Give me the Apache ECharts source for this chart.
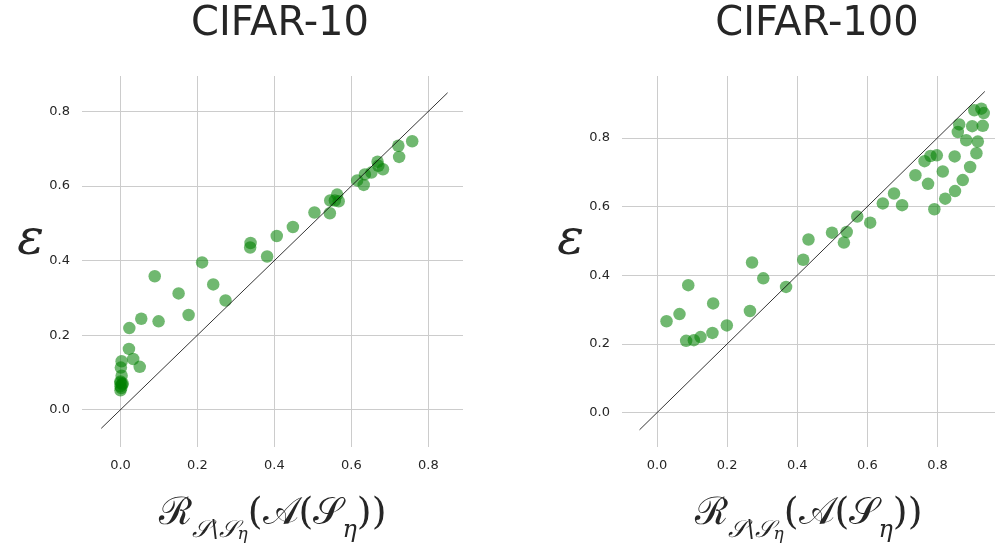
<!DOCTYPE html>
<html>
<head>
<meta charset="utf-8">
<script src="https://cdn.jsdelivr.net/npm/echarts@6/dist/echarts.min.js"></script>
<style>
  html, body { margin: 0; padding: 0; background: #fff; }
  #main { width: 995px; height: 550px; }
</style>
</head>
<body>
<div id="main"></div>
<script>
// 数据
var titles = ['CIFAR-10', 'CIFAR-100'];

var cifar10 = [
  [0.338, 0.447], [0.337, 0.435], [0.381, 0.411], [0.406, 0.466], [0.448, 0.490],
  [0.504, 0.529], [0.544, 0.527], [0.545, 0.561], [0.557, 0.561], [0.563, 0.577],
  [0.567, 0.559], [0.615, 0.615], [0.632, 0.603], [0.635, 0.631], [0.652, 0.636],
  [0.668, 0.665], [0.670, 0.654], [0.682, 0.645], [0.722, 0.708], [0.724, 0.678],
  [0.758, 0.720],
  [0.089, 0.358], [0.212, 0.395], [0.241, 0.336], [0.151, 0.312], [0.273, 0.293],
  [0.054, 0.244], [0.099, 0.237], [0.177, 0.254], [0.023, 0.219], [0.022, 0.163],
  [0.033, 0.136], [0.050, 0.115], [0.003, 0.130], [0.001, 0.113], [0.003, 0.091],
  [0.000, 0.076], [0.006, 0.070], [0.000, 0.063], [0.000, 0.052], [0.002, 0.058],
  [0.004, 0.068], [0.000, 0.072]
];

var cifar100 = [
  [0.027, 0.266], [0.064, 0.287], [0.089, 0.371], [0.083, 0.209], [0.105, 0.211],
  [0.124, 0.220], [0.160, 0.318], [0.158, 0.232], [0.199, 0.254], [0.265, 0.296],
  [0.271, 0.437], [0.303, 0.391], [0.368, 0.366], [0.417, 0.445], [0.432, 0.504],
  [0.499, 0.524], [0.541, 0.526], [0.533, 0.495], [0.571, 0.571], [0.608, 0.553],
  [0.644, 0.609], [0.676, 0.638], [0.699, 0.604], [0.737, 0.691], [0.773, 0.666],
  [0.791, 0.592], [0.763, 0.732], [0.780, 0.747], [0.798, 0.749], [0.815, 0.702],
  [0.822, 0.623], [0.849, 0.746], [0.850, 0.645], [0.872, 0.677], [0.893, 0.715],
  [0.911, 0.755], [0.915, 0.789], [0.882, 0.793], [0.858, 0.817], [0.862, 0.839],
  [0.899, 0.834], [0.929, 0.835], [0.905, 0.880], [0.925, 0.885], [0.932, 0.872]
];

// y = x 参考线
var diag10 = [[-0.05, -0.05], [0.85, 0.85]];
var diag100 = [[-0.05, -0.05], [0.935, 0.935]];

var xRange = [[-0.1, 0.89], [-0.1, 0.964]];
var yRange = [[-0.1, 0.895], [-0.1, 0.98]];

var myChart = echarts.init(document.getElementById('main'));

var xName = '{b|ℛ}{s|𝒮\\𝒮}{ss|η}{b|(𝒜(𝒮}{s|η}{b|))}';
var xNameRich = {
  b: { fontSize: 38, color: '#262626', lineHeight: 48, verticalAlign: 'top', fontFamily: 'DejaVu Serif' },
  s: { fontSize: 24, color: '#262626', lineHeight: 30, verticalAlign: 'bottom', fontFamily: 'DejaVu Serif', fontStyle: 'italic' },
  ss: { fontSize: 17, color: '#262626', lineHeight: 20, verticalAlign: 'bottom', fontFamily: 'DejaVu Serif', fontStyle: 'italic' }
};

function axisCommon() {
  return {
    type: 'value',
    splitNumber: 5,
    axisLine: { show: false },
    axisTick: { show: false },
    axisLabel: {
      color: '#262626',
      fontSize: 13,
      fontFamily: 'DejaVu Sans',
      margin: 12,
      showMinLabel: false,
      showMaxLabel: false,
      formatter: function (v) { return v.toFixed(1); }
    },
    splitLine: {
      show: true,
      showMinLine: false,
      showMaxLine: false,
      lineStyle: { color: '#cccccc', width: 1 }
    }
  };
}

var grids = [
  { left: 82, top: 76, width: 381, height: 371, outerBoundsMode: 'none', containLabel: false },
  { left: 622, top: 76, width: 373, height: 371, outerBoundsMode: 'none', containLabel: false }
];

var xAxes = [], yAxes = [];
for (var i = 0; i < 2; i++) {
  var xa = axisCommon();
  xa.gridIndex = i;
  xa.min = xRange[i][0];
  xa.max = xRange[i][1];
  xa.name = xName;
  xa.nameLocation = 'middle';
  xa.nameGap = 48;
  xa.nameTextStyle = { rich: xNameRich };
  xAxes.push(xa);

  var ya = axisCommon();
  ya.gridIndex = i;
  ya.min = yRange[i][0];
  ya.max = yRange[i][1];
  ya.name = 'ε\n';
  ya.nameLocation = 'middle';
  ya.nameRotate = 0;
  ya.nameGap = 38;
  ya.nameTextStyle = {
    fontSize: 50, lineHeight: 40, color: '#262626',
    fontFamily: 'DejaVu Serif', fontStyle: 'italic', align: 'right'
  };
  yAxes.push(ya);
}

function scatter(idx, data) {
  return {
    type: 'scatter',
    xAxisIndex: idx,
    yAxisIndex: idx,
    symbolSize: 12.5,
    itemStyle: { color: 'rgba(0,128,0,0.7)' },
    data: data,
    z: 2
  };
}

function diag(idx, data) {
  return {
    type: 'line',
    xAxisIndex: idx,
    yAxisIndex: idx,
    symbol: 'none',
    silent: true,
    lineStyle: { color: '#000', width: 0.8 },
    data: data,
    z: 3
  };
}

var option = {
  animation: false,
  title: [
    { text: titles[0], left: 275, top: 0, textAlign: 'center',
      textStyle: { fontSize: 40, fontWeight: 'normal', color: '#262626', fontFamily: 'DejaVu Sans' } },
    { text: titles[1], left: 812, top: 0, textAlign: 'center',
      textStyle: { fontSize: 40, fontWeight: 'normal', color: '#262626', fontFamily: 'DejaVu Sans' } }
  ],
  grid: grids,
  xAxis: xAxes,
  yAxis: yAxes,
  series: [
    scatter(0, cifar10), diag(0, diag10),
    scatter(1, cifar100), diag(1, diag100)
  ]
};

myChart.setOption(option);
</script>
</body>
</html>
